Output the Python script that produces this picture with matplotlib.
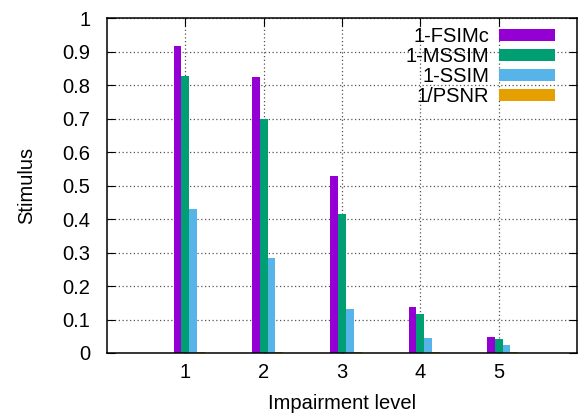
import matplotlib.pyplot as plt
import numpy as np

plt.rcParams['font.family'] = ['Liberation Sans', 'DejaVu Sans']

# impairment levels and metric values
levels = [1, 2, 3, 4, 5]
fsimc = [0.916, 0.823, 0.527, 0.138, 0.047]
mssim = [0.828, 0.699, 0.414, 0.116, 0.041]
ssim = [0.430, 0.284, 0.130, 0.044, 0.023]
psnr_inv = [0.003, 0.003, 0.003, 0.003, 0.003]

series = [
    ('1-FSIMc', fsimc, '#9400D3'),
    ('1-MSSIM', mssim, '#009E73'),
    ('1-SSIM', ssim, '#56B4E9'),
    ('1/PSNR', psnr_inv, '#E69F00'),
]

fs = 14.5

fig = plt.figure(figsize=(5.8, 4.15), dpi=100)
ax = fig.add_axes([0.1845, 0.1494, 0.8103, 0.8072])

x = np.array(levels, dtype=float)
width = 0.1
for k, (name, vals, col) in enumerate(series):
    ax.bar(x + (k - 1) * width, vals, width, color=col, label=name,
           linewidth=0, zorder=3)

ax.set_xlim(0, 6)
ax.set_ylim(0, 1)
ax.set_xticks(levels)
ax.set_xticklabels([str(v) for v in levels])
ax.set_yticks(np.arange(0, 1.01, 0.1))
ax.set_yticklabels(['0', '0.1', '0.2', '0.3', '0.4', '0.5', '0.6', '0.7', '0.8', '0.9', '1'])

ax.grid(True, linestyle=(0, (1, 2)), color='#555555', linewidth=0.9, zorder=0)
ax.tick_params(direction='in', length=6, top=True, right=True, labelsize=fs)
ax.tick_params(axis='y', pad=12)
ax.tick_params(axis='x', pad=7)
for sp in ax.spines.values():
    sp.set_linewidth(1.1)
    sp.set_zorder(5)

ax.set_xlabel('Impairment level', fontsize=fs, labelpad=9)
ax.set_ylabel('Stimulus', fontsize=fs, labelpad=19)

ax.legend(loc='upper right', frameon=False, markerfirst=False, fontsize=fs,
          handlelength=2.75, handleheight=0.55, labelspacing=0.05,
          handletextpad=0.5, borderaxespad=0.05, bbox_to_anchor=(0.972, 1.0))

plt.savefig('out.png', dpi=100)
